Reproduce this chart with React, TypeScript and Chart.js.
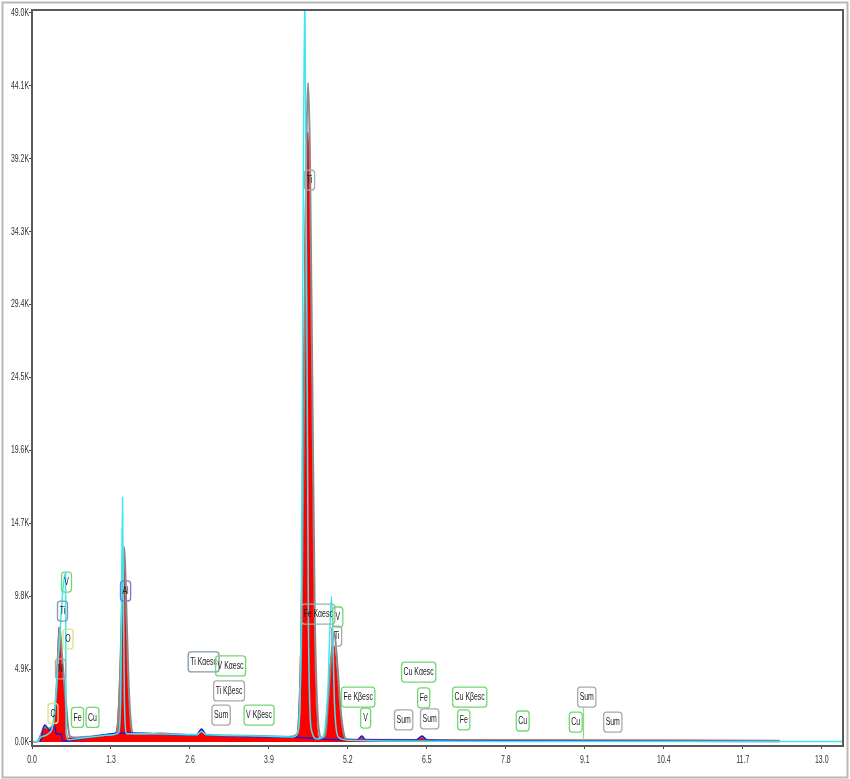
import React, { useEffect, useRef } from "react";
import { Chart, registerables } from "chart.js";

Chart.register(...registerables);

// ---------- DATA ----------
const xTickValues = [0, 1.3, 2.6, 3.9, 5.2, 6.5, 7.8, 9.1, 10.4, 11.7, 13.0];
const yTickValues = [0, 4900, 9800, 14700, 19600, 24500, 29400, 34300, 39200, 44100, 49000];

// measured spectrum (red fill), keV / counts
const redEnergy = [0, 0.09, 0.14, 0.21, 0.27, 0.34, 0.37, 0.40, 0.448, 0.486, 0.535, 0.585, 0.70, 0.95, 1.28, 1.37, 1.41, 1.45, 1.49, 1.51, 1.535, 1.57, 1.61, 1.65, 1.94, 2.1, 2.71, 2.79, 2.87, 3.58, 4.24, 4.35, 4.39, 4.43, 4.47, 4.505, 4.535, 4.565, 4.60, 4.64, 4.68, 4.72, 4.75, 4.82, 4.86, 4.91, 4.965, 5.02, 5.07, 5.12, 5.16, 5.36, 5.43, 5.49, 6.33, 6.42, 6.50, 7.70, 9.35, 11.0, 12.3, 12.31];
const redCounts = [0, 0, 470, 1140, 800, 1080, 1480, 3500, 7730, 5500, 2800, 270, 270, 340, 470, 540, 1500, 5000, 10500, 12000, 10000, 4500, 1300, 540, 560, 600, 470, 870, 470, 400, 340, 400, 2000, 8500, 24000, 37500, 41000, 37500, 24000, 8500, 2000, 270, 130, 470, 2500, 5200, 6500, 4500, 2000, 500, 180, 170, 380, 170, 160, 380, 160, 140, 130, 120, 110, 0];

// fitted spectrum (grey line)
const greyEnergy = [0.09, 0.14, 0.21, 0.27, 0.34, 0.40, 0.455, 0.50, 0.56, 0.62, 0.70, 0.95, 1.28, 1.40, 1.45, 1.49, 1.52, 1.55, 1.59, 1.63, 1.67, 1.94, 2.71, 2.79, 2.87, 3.58, 4.24, 4.36, 4.40, 4.44, 4.48, 4.515, 4.545, 4.575, 4.615, 4.655, 4.70, 4.74, 4.77, 4.83, 4.87, 4.92, 4.975, 5.03, 5.08, 5.13, 5.17, 5.36, 5.43, 5.49, 6.33, 6.42, 6.50, 7.70, 12.3];
const greyCounts = [0, 400, 1000, 900, 1100, 3300, 7700, 5500, 2600, 400, 300, 360, 490, 700, 4500, 10500, 13100, 9500, 4000, 1200, 560, 550, 480, 800, 480, 420, 360, 500, 2000, 8500, 24000, 39500, 44300, 39500, 24000, 8500, 2000, 400, 250, 500, 2500, 5400, 7400, 5000, 2200, 600, 200, 150, 350, 150, 140, 350, 140, 100, 60];

// reference spectrum (cyan line)
const cyanEnergy = [0, 0.09, 0.14, 0.25, 0.35, 0.40, 0.552, 0.562, 0.60, 0.80, 1.00, 1.30, 1.42, 1.46, 1.49, 1.52, 1.56, 2.00, 2.71, 2.79, 2.87, 3.50, 4.30, 4.38, 4.43, 4.49, 4.55, 4.60, 4.70, 4.80, 4.87, 4.93, 4.98, 5.05, 5.20, 6.00, 8.00, 13.35];
const cyanCounts = [30, 30, 300, 500, 1200, 3500, 11360, 600, 150, 250, 350, 470, 600, 3000, 16450, 3000, 550, 560, 480, 700, 480, 420, 340, 700, 8000, 51000, 8000, 800, 200, 450, 3500, 9800, 2500, 300, 120, 60, 40, 30];

// background (blue line)
const blueEnergy = [0.14, 0.21, 0.29, 0.37, 0.40, 0.486, 0.50, 0.585, 0.78, 1.28, 1.60, 2.59, 2.71, 2.79, 2.87, 4.24, 4.73, 5.31, 5.36, 5.43, 5.49, 6.33, 6.42, 6.50, 7.70, 12.3];
const blueCounts = [0, 1140, 800, 1080, 540, 540, 70, 70, 200, 540, 600, 470, 470, 870, 470, 340, 200, 130, 130, 400, 130, 130, 400, 130, 70, 30];

// marker stem under the 9.1 keV "Sum" label
const stemEnergy = [9.08, 9.08];
const stemCounts = [0, 2350];

// peak labels
const labelText = ["V", "Ti", "O", "N", "C", "Fe", "Cu", "Al", "Ti", "Fe Kαesc", "V", "Ti", "Ti Kαesc", "V Kαesc", "Ti Kβesc", "Sum", "V Kβesc", "Fe Kβesc", "V", "Sum", "Cu Kαesc", "Fe", "Sum", "Cu Kβesc", "Fe", "Cu", "Sum", "Cu", "Sum"];
const labelEnergy = [0.568, 0.502, 0.593, 0.469, 0.346, 0.749, 0.996, 1.540, 4.570, 4.710, 5.034, 5.015, 2.825, 3.269, 3.244, 3.113, 3.738, 5.369, 5.492, 6.118, 6.365, 6.448, 6.546, 7.205, 7.107, 8.078, 9.132, 8.951, 9.560];
const labelCount = [10750, 8800, 6920, 4910, 1920, 1650, 1650, 10150, 37770, 8600, 8400, 7120, 5380, 5110, 3430, 1810, 1810, 3020, 1610, 1480, 4700, 2960, 1550, 3020, 1480, 1410, 3020, 1340, 1340];
const labelKind = ["green", "bluegrey", "yellow", "grey", "yellow", "green", "green", "blue", "grey", "teal", "green", "grey", "bluegrey", "green", "grey", "grey", "green", "green", "green", "grey", "green", "green", "grey", "green", "green", "green", "grey", "green", "grey"];

// ---------- STYLE ----------
const kindColor: Record<string, string> = {
  green: "#72d872",
  grey: "#a9a9a9",
  bluegrey: "#8499aa",
  yellow: "#d6e57c",
  blue: "#7a78d6",
  teal: "#93b8ab",
};
const FONT = '"Liberation Sans", Arial, sans-serif';
const SQUEEZE = 0.66;

const pts = (xs: number[], ys: number[]) => xs.map((x, i) => ({ x, y: ys[i] }));

function squeezedText(ctx: CanvasRenderingContext2D, t: string, x: number, y: number) {
  ctx.save();
  ctx.translate(x, y);
  ctx.scale(SQUEEZE, 1);
  ctx.fillText(t, 0, 0);
  ctx.restore();
}

export default function App() {
  const ref = useRef<HTMLCanvasElement>(null);

  useEffect(() => {
    const canvas = ref.current!;

    const framePlugin = {
      id: "frame",
      beforeDraw(chart: any) {
        const { ctx, width, height } = chart;
        ctx.save();
        ctx.fillStyle = "#ffffff";
        ctx.fillRect(0, 0, width, height);
        ctx.strokeStyle = "#b8b8b8";
        ctx.lineWidth = 2;
        ctx.strokeRect(2.5, 2.5, width - 5, height - 4);
        ctx.restore();
      },
      afterDraw(chart: any) {
        const { ctx, chartArea: a } = chart;
        const xs = chart.scales.x;
        const ys = chart.scales.y;
        ctx.save();
        ctx.strokeStyle = "#5a5a5a";
        ctx.lineWidth = 2;
        ctx.strokeRect(a.left, a.top, a.right - a.left, a.bottom - a.top);
        // tick labels (condensed)
        ctx.fillStyle = "#2e2e2e";
        ctx.font = `10.5px ${FONT}`;
        ctx.textBaseline = "middle";
        ctx.textAlign = "right";
        yTickValues.forEach((v) => {
          squeezedText(ctx, (v / 1000).toFixed(1) + "K", a.left - 3, ys.getPixelForValue(v));
        });
        ctx.textAlign = "center";
        xTickValues.forEach((v) => {
          squeezedText(ctx, v.toFixed(1), xs.getPixelForValue(v), a.bottom + 14);
        });
        ctx.restore();
      },
    };

    const labelPlugin = {
      id: "peakLabels",
      afterDatasetsDraw(chart: any) {
        const { ctx } = chart;
        const xs = chart.scales.x;
        const ys = chart.scales.y;
        ctx.save();
        ctx.font = `10.5px ${FONT}`;
        ctx.textAlign = "center";
        ctx.textBaseline = "middle";
        labelText.forEach((t, i) => {
          const px = xs.getPixelForValue(labelEnergy[i]);
          const py = ys.getPixelForValue(labelCount[i]);
          const tw = ctx.measureText(t).width * SQUEEZE;
          const w = Math.max(10, tw + 4);
          const h = 20;
          ctx.beginPath();
          ctx.roundRect(px - w / 2, py - h / 2, w, h, 3);
          ctx.lineWidth = 1.3;
          ctx.strokeStyle = kindColor[labelKind[i]];
          ctx.stroke();
          ctx.fillStyle = "#1a1a1a";
          squeezedText(ctx, t, px, py + 0.5);
        });
        ctx.restore();
      },
    };

    const chart = new Chart(canvas, {
      type: "line",
      data: {
        datasets: [
          { data: pts(cyanEnergy, cyanCounts), borderColor: "#3fe6f0", borderWidth: 1.5, fill: false, order: 0 },
          { data: pts(blueEnergy, blueCounts), borderColor: "#1c1cd8", borderWidth: 1.5, fill: false, order: 1 },
          { data: pts(stemEnergy, stemCounts), borderColor: "#72d872", borderWidth: 1, fill: false, order: 1 },
          { data: pts(greyEnergy, greyCounts), borderColor: "#8a8a8a", borderWidth: 2, fill: false, order: 2 },
          {
            data: pts(redEnergy, redCounts),
            borderColor: "#ff0000",
            backgroundColor: "#ff0000",
            borderWidth: 1,
            fill: "origin",
            order: 3,
          },
        ] as any,
      },
      options: {
        responsive: false,
        maintainAspectRatio: false,
        animation: false,
        layout: { padding: { left: 0, top: 10, right: 7, bottom: 0 } },
        elements: {
          point: { radius: 0 },
          line: { tension: 0, cubicInterpolationMode: "monotone" },
        },
        plugins: {
          legend: { display: false },
          tooltip: { enabled: false },
        },
        scales: {
          x: {
            type: "linear",
            min: 0,
            max: 13.35,
            border: { display: false },
            grid: { drawOnChartArea: false, drawTicks: true, tickLength: 3, color: "#444" },
            afterBuildTicks: (s: any) => {
              s.ticks = xTickValues.map((v) => ({ value: v }));
            },
            afterFit: (s: any) => {
              s.height = 33;
            },
            ticks: {
              autoSkip: false,
              maxRotation: 0,
              padding: 6,
              color: "rgba(0,0,0,0)",
              font: { family: FONT, size: 10 },
              callback: (v: any) => Number(v).toFixed(1),
            },
          },
          y: {
            type: "linear",
            min: -270,
            max: 49200,
            border: { display: false },
            grid: { drawOnChartArea: false, drawTicks: true, tickLength: 3, color: "#444" },
            afterBuildTicks: (s: any) => {
              s.ticks = yTickValues.map((v) => ({ value: v }));
            },
            afterFit: (s: any) => {
              s.width = 32;
            },
            ticks: {
              autoSkip: false,
              padding: 1,
              color: "rgba(0,0,0,0)",
              font: { family: FONT, size: 10 },
              callback: (v: any) => (Number(v) / 1000).toFixed(1) + "K",
            },
          },
        },
      },
      plugins: [framePlugin, labelPlugin],
    });

    return () => chart.destroy();
  }, []);

  return (
    <div style={{ position: "absolute", left: 0, top: 0, width: 850, height: 779 }}>
      <canvas ref={ref} width={850} height={779} style={{ display: "block", width: 850, height: 779 }} />
    </div>
  );
}
